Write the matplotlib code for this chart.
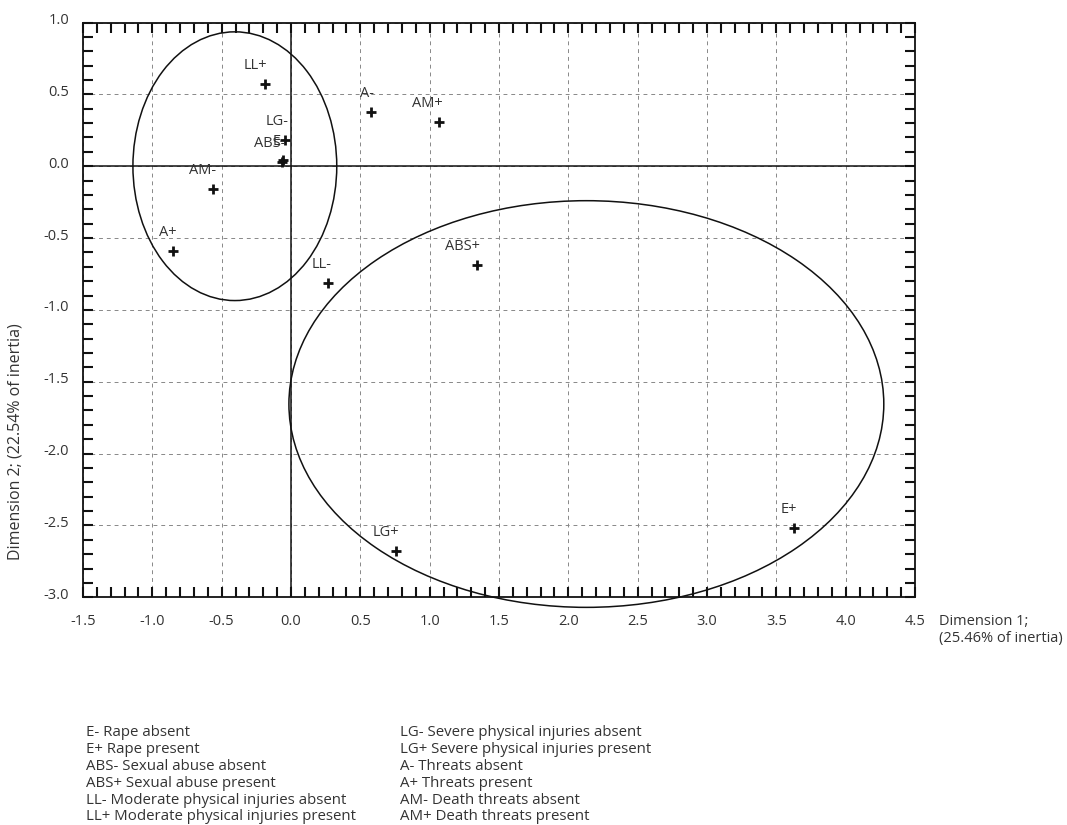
import matplotlib
matplotlib.use("Agg")
import matplotlib.pyplot as plt
from matplotlib.patches import Ellipse
from matplotlib.ticker import MultipleLocator, FormatStrFormatter
import matplotlib.transforms as mtransforms

plt.rcParams['font.family'] = ['Open Sans', 'DejaVu Sans']

# ---- data ----
labels = ["LL+", "A-", "AM+", "LG-", "E-", "ABS-", "AM-", "A+", "LL-", "ABS+", "LG+", "E+"]
dim1 = [-0.19, 0.58, 1.07, -0.04, -0.06, -0.065, -0.56, -0.85, 0.27, 1.34, 0.76, 3.63]
dim2 = [0.57, 0.38, 0.31, 0.18, 0.04, 0.03, -0.16, -0.59, -0.81, -0.69, -2.68, -2.52]

ellipse_centers = [(-0.405, 0.0), (2.13, -1.655)]
ellipse_widths = [1.47, 4.29]
ellipse_heights = [1.87, 2.83]

legend_col1 = ["E- Rape absent", "E+ Rape present", "ABS- Sexual abuse absent",
               "ABS+ Sexual abuse present", "LL- Moderate physical injuries absent",
               "LL+ Moderate physical injuries present"]
legend_col2 = ["LG- Severe physical injuries absent", "LG+ Severe physical injuries present",
               "A- Threats absent", "A+ Threats present", "AM- Death threats absent",
               "AM+ Death threats present"]

xlabel = "Dimension 1;\n(25.46% of inertia)"
ylabel = "Dimension 2; (22.54% of inertia)"

W, H = 1067, 825
fig = plt.figure(figsize=(W / 100, H / 100), dpi=100)
ax = fig.add_axes([83 / W, 1 - 597.3 / H, (915 - 83) / W, (597.3 - 22.5) / H])

txtc = '#333333'
fs = 10.5
ax.set_xlim(-1.5, 4.5)
ax.set_ylim(-3.0, 1.0)

ax.xaxis.set_major_locator(MultipleLocator(0.5))
ax.yaxis.set_major_locator(MultipleLocator(0.5))
ax.xaxis.set_minor_locator(MultipleLocator(0.1))
ax.yaxis.set_minor_locator(MultipleLocator(0.1))
ax.xaxis.set_major_formatter(FormatStrFormatter('%.1f'))
ax.yaxis.set_major_formatter(FormatStrFormatter('%.1f'))

ax.tick_params(which='both', direction='in', length=7.2, width=1.5, color='#111111',
               top=True, right=True, labelsize=fs, labelcolor=txtc)
ax.tick_params(axis='x', which='major', pad=12)
ax.tick_params(axis='y', which='major', pad=10)
for sp in ax.spines.values():
    sp.set_linewidth(1.3)
    sp.set_color('#111111')

off = mtransforms.ScaledTranslation(0, 4 / 100, fig.dpi_scale_trans)
for lab in ax.get_yticklabels():
    lab.set_transform(lab.get_transform() + off)

ax.grid(True, which='major', linestyle=(0, (4, 4)), color='#888888', linewidth=0.7)
ax.set_axisbelow(True)
ax.axhline(0, color='#111111', linewidth=1.1, zorder=2)
ax.axvline(0, color='#111111', linewidth=1.1, zorder=2)

for (cx, cy), w, h in zip(ellipse_centers, ellipse_widths, ellipse_heights):
    e = Ellipse((cx, cy), w, h, fill=False, edgecolor='#111111', linewidth=1.1,
                clip_on=False, zorder=3)
    ax.add_patch(e)

ax.plot(dim1, dim2, linestyle='none', marker='+', markersize=6.8,
        markeredgewidth=2.0, color='#111111', zorder=4)
for lab, x, y in zip(labels, dim1, dim2):
    ax.annotate(lab, (x, y), xytext=(3, 15), textcoords='offset pixels',
                ha='right', va='baseline', fontsize=fs, color=txtc, zorder=5)

fig.text(939 / W, 1 - 630 / H, xlabel, ha='left', va='center', fontsize=fs,
         color=txtc, linespacing=1.15)

fig.text(16 / W, 1 - 442 / H, ylabel, rotation=90, ha='center', va='center',
         fontsize=11.5, color=txtc)

y0, dy = 733, 16.8
for i, t in enumerate(legend_col1):
    fig.text(86 / W, 1 - (y0 + i * dy) / H, t, ha='left', va='center',
             fontsize=10.8, color=txtc)
for i, t in enumerate(legend_col2):
    fig.text(400 / W, 1 - (y0 + i * dy) / H, t, ha='left', va='center',
             fontsize=10.8, color=txtc)

fig.savefig("out.png", dpi=100)
